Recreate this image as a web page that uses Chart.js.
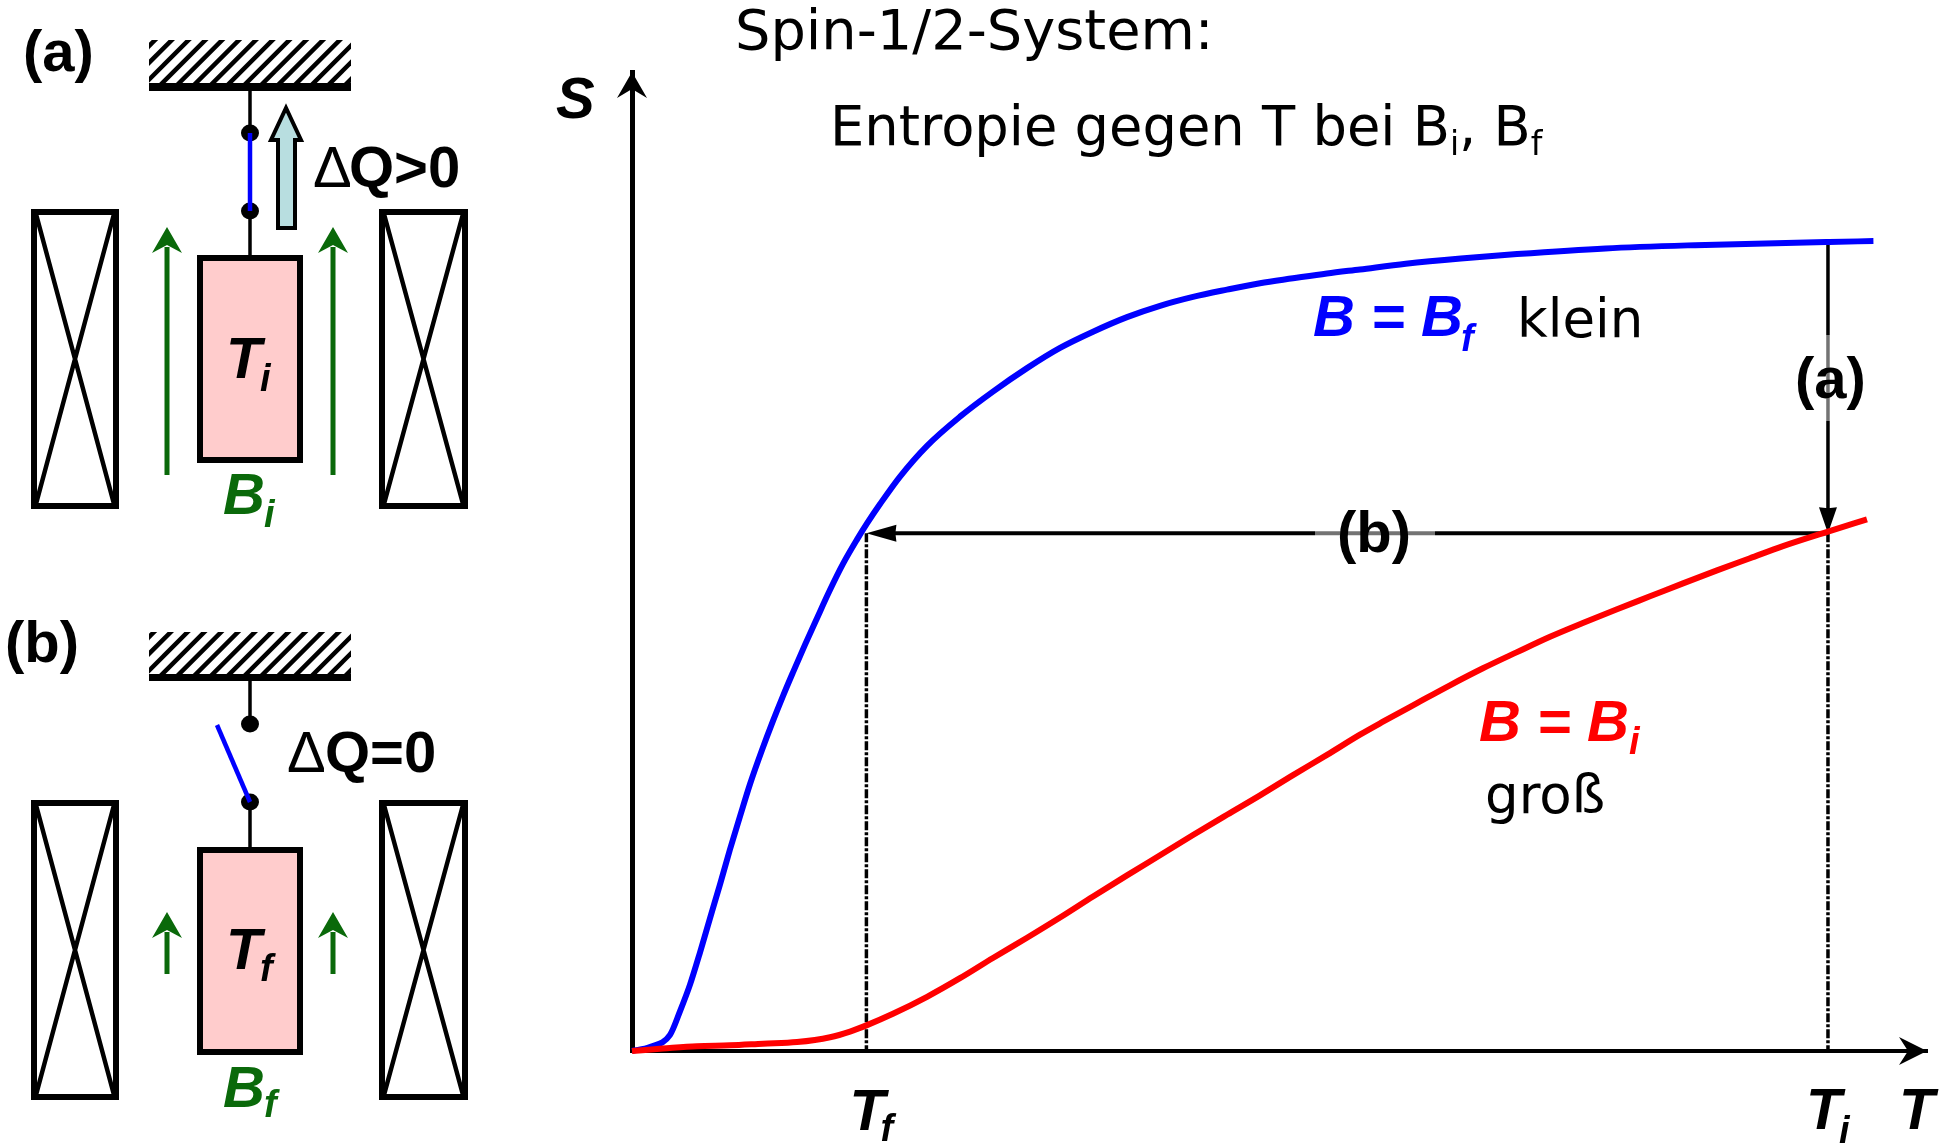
<!DOCTYPE html>
<html>
<head>
<meta charset="utf-8">
<title>Spin-1/2-System</title>
<script src="https://cdn.jsdelivr.net/npm/chart.js@4"></script>
<style>
html,body{margin:0;padding:0;background:#fff;overflow:hidden}
canvas{display:block}
</style>
</head>
<body>
<canvas id="c" width="1945" height="1145"></canvas>
<script>
// Values. T: T_i = 100; S: plateau of the B_f curve = 100.
const tempSmallField = [0,1.5,3.18,4.01,4.85,5.69,6.52,7.36,8.19,9.03,9.87,10.87,11.79,12.63,13.46,14.46,15.47,16.56,17.64,18.81,19.65,20.74,22.41,24.67,27.42,30.18,33.03,35.79,38.55,41.39,44.15,46.91,49.75,52.51,55.27,58.11,60.87,64.7,69.3,74.0,81.4,88.9,100.1,103.8];
const entropySmallField = [0,0.5,2.0,4.9,8.2,12.2,16.4,20.6,24.9,29.0,33.0,37.2,40.8,43.9,46.8,50.2,53.5,57.0,60.2,63.2,65.2,67.6,71.0,74.8,78.4,81.5,84.4,86.9,88.9,90.7,92.1,93.2,94.1,94.9,95.5,96.1,96.6,97.3,97.95,98.5,99.2,99.6,100,100.1];
const tempLargeField = [0,2.59,5.43,8.19,10.95,13.8,16.56,18.23,19.65,21.82,24.67,27.42,30.18,33.03,35.79,38.55,41.39,44.15,46.91,49.75,52.51,55.27,58.11,60.87,62.79,65.64,68.39,71.15,74.0,76.76,79.5,82.36,85.12,87.88,90.72,93.48,96.24,100,103.26];
const entropyLargeField = [0,0.3,0.6,0.7,0.9,1.1,1.7,2.4,3.2,4.6,6.7,9.0,11.5,14.0,16.5,19.1,21.7,24.2,26.7,29.2,31.6,34.1,36.6,39.1,40.7,43.0,45.2,47.3,49.3,51.2,52.9,54.6,56.2,57.8,59.4,60.9,62.4,64.2,65.7];
const tempFinal = 19.6;
const tempInitial = 100;
const entropyStart = 99.9;
const entropyEnd = 64.0;
const axisMaxT = 108.28;
const axisMaxS = 121.0;
const titleLine1 = "Spin-1/2-System:";
const titleLine2 = ["Entropie gegen T bei B", "i", ", B", "f"];

const BOLD = "bold 58px 'Liberation Sans'";
const BI = "italic bold 58px 'Liberation Sans'";
const SUB = "italic bold 38px 'Liberation Sans'";
const VER = "53px 'DejaVu Sans'";
const TITLE1 = "55.8px 'DejaVu Sans'";
const TITLE2 = "54.3px 'DejaVu Sans'";
const VERSUB = "33px 'DejaVu Sans'";
const DELTA = "58px 'Liberation Sans'";
const GREEN = "#0a690a", BLUE = "#0000ff", RED = "#ff0000";

function txt(ctx, s, x, y, font, color) {
  ctx.font = font; ctx.fillStyle = color || "#000";
  ctx.textAlign = "left"; ctx.textBaseline = "alphabetic";
  ctx.fillText(s, x, y);
}
function subscripted(ctx, x, y, color, base, sub, subDx, subDy) {
  txt(ctx, base, x, y, BI, color);
  txt(ctx, sub, x + subDx, y + subDy, SUB, color);
}
function head(ctx, tx, ty, dx, dy, len, half, notch) {
  // filled, notched arrow head pointing along the unit vector (dx,dy)
  const px = -dy, py = dx;
  ctx.beginPath();
  ctx.moveTo(tx, ty);
  ctx.lineTo(tx - dx*len + px*half, ty - dy*len + py*half);
  ctx.lineTo(tx - dx*notch, ty - dy*notch);
  ctx.lineTo(tx - dx*len - px*half, ty - dy*len - py*half);
  ctx.closePath();
  ctx.fillStyle = ctx.strokeStyle; ctx.fill();
}
function coil(ctx, x0, y0, x1, y1) {
  ctx.strokeStyle = "#000"; ctx.lineWidth = 6;
  ctx.strokeRect(x0 + 3, y0 + 3, x1 - x0 - 6, y1 - y0 - 6);
  ctx.lineWidth = 4.5; ctx.beginPath();
  ctx.moveTo(x0 + 5, y0 + 5); ctx.lineTo(x1 - 5, y1 - 5);
  ctx.moveTo(x1 - 5, y0 + 5); ctx.lineTo(x0 + 5, y1 - 5);
  ctx.stroke();
}
function ceiling(ctx, top, bar, bottom) {
  ctx.save();
  ctx.beginPath(); ctx.rect(149, top, 202, bar - top); ctx.clip();
  ctx.strokeStyle = "#000"; ctx.lineWidth = 4.5;
  for (let x = 110; x < 420; x += 16.8) {
    ctx.beginPath(); ctx.moveTo(x, bar + 2); ctx.lineTo(x + (bar - top + 4), top - 2); ctx.stroke();
  }
  ctx.restore();
  ctx.fillStyle = "#000"; ctx.fillRect(149, bar, 202, bottom - bar);
}
function dot(ctx, x, y) {
  ctx.fillStyle = "#000"; ctx.beginPath(); ctx.ellipse(x, y, 9, 8.5, 0, 0, 7); ctx.fill();
}
function seg(ctx, x0, y0, x1, y1, color, w) {
  ctx.strokeStyle = color; ctx.lineWidth = w; ctx.beginPath();
  ctx.moveTo(x0, y0); ctx.lineTo(x1, y1); ctx.stroke();
}
function sample(ctx, top, bottom) {
  ctx.fillStyle = "#ffcccc"; ctx.fillRect(197, top, 106, bottom - top);
  ctx.strokeStyle = "#000"; ctx.lineWidth = 6;
  ctx.strokeRect(200, top + 3, 100, bottom - top - 6);
}
function fieldArrow(ctx, x, tip, base) {
  ctx.strokeStyle = GREEN; ctx.lineWidth = 5;
  ctx.beginPath(); ctx.moveTo(x, base); ctx.lineTo(x, tip + 20); ctx.stroke();
  head(ctx, x, tip, 0, -1, 26, 15, 18);
}

const schematicPlugin = {
  id: "schematic",
  afterDraw(chart) {
    const ctx = chart.ctx;
    ctx.save();
    ctx.lineCap = "butt"; ctx.setLineDash([]);

    // (a) thermal contact closed
    txt(ctx, "(a)", 23, 71, BOLD);
    ceiling(ctx, 40, 83, 91);
    seg(ctx, 250, 91, 250, 255, "#000", 3.5);
    dot(ctx, 250, 133); dot(ctx, 250, 211);
    seg(ctx, 250, 133, 250, 211, BLUE, 4.5);
    coil(ctx, 31, 209, 119, 509);
    coil(ctx, 379, 209, 468, 509);
    sample(ctx, 255, 463);
    fieldArrow(ctx, 167, 227, 475);
    fieldArrow(ctx, 333, 227, 475);
    // heat arrow
    ctx.beginPath();
    ctx.moveTo(278, 228); ctx.lineTo(278, 140); ctx.lineTo(271, 140);
    ctx.lineTo(286, 108); ctx.lineTo(301, 140); ctx.lineTo(295, 140); ctx.lineTo(295, 228);
    ctx.closePath();
    ctx.fillStyle = "#b8dee0"; ctx.fill();
    ctx.strokeStyle = "#000"; ctx.lineWidth = 4; ctx.stroke();
    txt(ctx, "\u0394", 313, 187, DELTA);
    txt(ctx, "Q>0", 349, 187, BOLD);
    subscripted(ctx, 226, 378, "#000", "T", "i", 34, 13);
    subscripted(ctx, 223, 514, GREEN, "B", "i", 41, 13);

    // (b) thermal contact open
    txt(ctx, "(b)", 5, 662, BOLD);
    ceiling(ctx, 632, 674, 681);
    seg(ctx, 250, 681, 250, 724, "#000", 3.5);
    seg(ctx, 250, 802, 250, 847, "#000", 3.5);
    dot(ctx, 250, 724); dot(ctx, 250, 802);
    seg(ctx, 217, 725, 250, 802, BLUE, 4.5);
    coil(ctx, 31, 800, 119, 1100);
    coil(ctx, 379, 800, 468, 1100);
    sample(ctx, 847, 1055);
    fieldArrow(ctx, 167, 912, 974);
    fieldArrow(ctx, 333, 912, 974);
    txt(ctx, "\u0394", 287, 772, DELTA);
    txt(ctx, "Q=0", 325, 772, BOLD);
    subscripted(ctx, 226, 969, "#000", "T", "f", 34, 12);
    subscripted(ctx, 223, 1107, GREEN, "B", "f", 41, 10);
    ctx.restore();
  }
};

const plotLabelsPlugin = {
  id: "plotLabels",
  beforeDatasetsDraw(chart) {
    const ctx = chart.ctx, X = chart.scales.x, Y = chart.scales.y;
    const xf = X.getPixelForValue(tempFinal), xi = X.getPixelForValue(tempInitial);
    const ye = Y.getPixelForValue(entropyEnd);
    ctx.save();
    ctx.strokeStyle = "#000";
    head(ctx, xi, ye, 0, 1, 26, 9, 25);
    head(ctx, xf, ye, -1, 0, 30, 8.5, 29);
    ctx.restore();
  },
  afterDraw(chart) {
    const ctx = chart.ctx, X = chart.scales.x, Y = chart.scales.y;
    const xi = X.getPixelForValue(tempInitial);
    const xf = X.getPixelForValue(tempFinal);
    const y0 = Y.getPixelForValue(0);
    const x0 = X.getPixelForValue(0);
    ctx.save();
    ctx.strokeStyle = "#000";
    // axis arrow heads at the ends of the scales
    head(ctx, x0, Y.getPixelForValue(axisMaxS), 0, -1, 26, 15, 17);
    head(ctx, X.getPixelForValue(axisMaxT), y0, 1, 0, 28, 14, 19);

    // faded halo where the original pasted labels over the arrows
    ctx.fillStyle = "rgba(255,255,255,0.45)";
    ctx.fillRect(xi - 8, 335, 16, 86);
    ctx.fillRect(1315, 527, 120, 12);

    txt(ctx, titleLine1, 735, 49, TITLE1);
    let x = 830;
    titleLine2.forEach((part, i) => {
      const isSub = i % 2 === 1;
      const font = isSub ? VERSUB : TITLE2;
      txt(ctx, part, x, isSub ? 155 : 145, font);
      x += ctx.measureText(part).width;
    });

    txt(ctx, "S", 556, 118, BI);
    subscripted(ctx, xf - 17, 1130, "#000", "T", "f", 31, 11);
    subscripted(ctx, xi - 22, 1129, "#000", "T", "i", 33, 14);
    txt(ctx, "T", 1899, 1129, BI);
    txt(ctx, "(a)", 1795, 398, BOLD);
    txt(ctx, "(b)", 1337, 552, BOLD);
    txt(ctx, "B = B", 1313, 336, BI, BLUE);
    txt(ctx, "f", 1461, 351, SUB, BLUE);
    txt(ctx, "klein", 1517, 337, VER);
    txt(ctx, "B = B", 1479, 741, BI, RED);
    txt(ctx, "i", 1629, 754, SUB, RED);
    txt(ctx, "gro\u00df", 1485, 813, VER);
    ctx.restore();
  }
};

function pts(xs, ys) { return xs.map((x, i) => ({ x, y: ys[i] })); }

new Chart(document.getElementById("c"), {
  type: "scatter",
  data: {
    datasets: [
      { label: "B = Bf", data: pts(tempSmallField, entropySmallField), showLine: true, borderColor: BLUE, borderWidth: 6, pointRadius: 0, cubicInterpolationMode: "monotone", clip: false, order: 2 },
      { label: "B = Bi", data: pts(tempLargeField, entropyLargeField), showLine: true, borderColor: RED, borderWidth: 6, pointRadius: 0, cubicInterpolationMode: "monotone", clip: false, order: 1 },
      { label: "(a)", data: pts([tempInitial, tempInitial], [entropyStart, entropyEnd + 3]), showLine: true, borderColor: "#000", borderWidth: 3.5, pointRadius: 0, clip: false, order: 5 },
      { label: "(b)", data: pts([tempInitial, tempFinal + 2], [entropyEnd, entropyEnd]), showLine: true, borderColor: "#000", borderWidth: 4, pointRadius: 0, clip: false, order: 5 },
      { label: "Tf", data: pts([tempFinal, tempFinal], [entropyEnd, 0]), showLine: true, borderColor: "#000", borderWidth: 3.5, borderDash: [9, 2, 3, 2], pointRadius: 0, clip: false, order: 5 },
      { label: "Ti", data: pts([tempInitial, tempInitial], [entropyEnd, 0]), showLine: true, borderColor: "#000", borderWidth: 3.5, borderDash: [9, 2, 3, 2], pointRadius: 0, clip: false, order: 5 }
    ]
  },
  options: {
    responsive: false,
    animation: false,
    events: [],
    layout: { padding: { left: 632, right: 18, top: 72, bottom: 94 } },
    plugins: { legend: { display: false }, tooltip: { enabled: false }, title: { display: false } },
    scales: {
      x: { type: "linear", min: 0, max: axisMaxT, grid: { display: false, drawTicks: false }, ticks: { display: false }, border: { display: true, color: "#000", width: 4 } },
      y: { type: "linear", min: 0, max: axisMaxS, grid: { display: false, drawTicks: false }, ticks: { display: false }, border: { display: true, color: "#000", width: 5 } }
    }
  },
  plugins: [schematicPlugin, plotLabelsPlugin]
});
</script>
</body>
</html>
